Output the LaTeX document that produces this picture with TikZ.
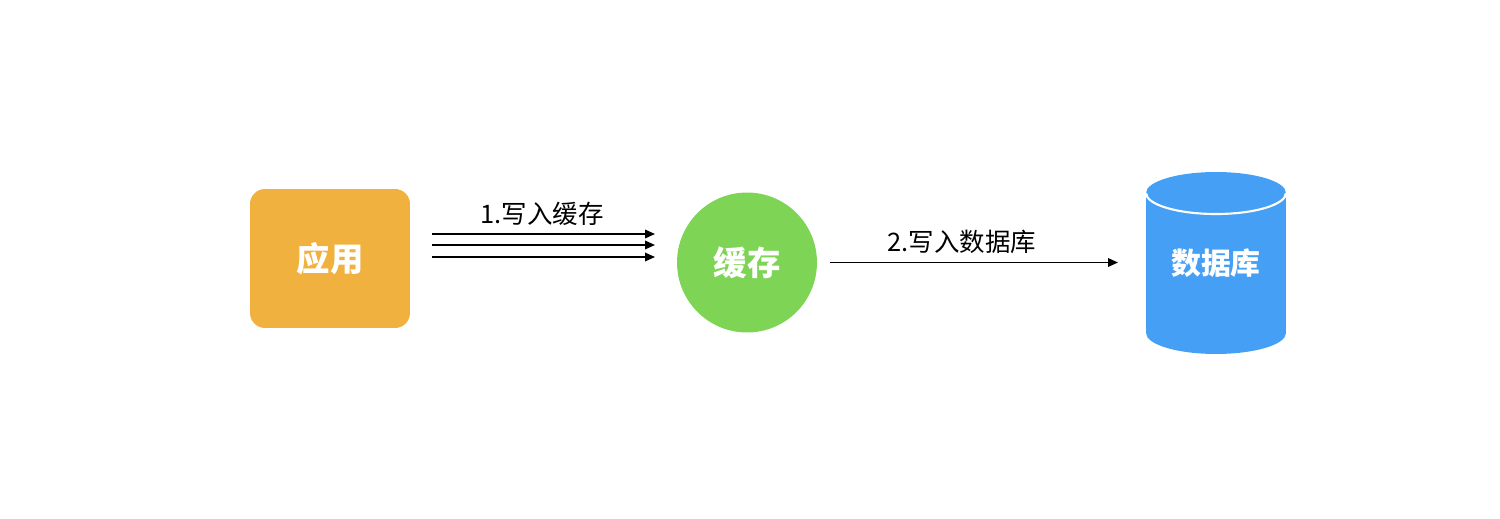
\documentclass[tikz,border=0pt]{standalone}
\usepackage{fontspec}
\setmainfont{Noto Sans CJK SC}
\usetikzlibrary{arrows.meta,backgrounds}
\definecolor{appyellow}{RGB}{240,177,62}
\definecolor{cachegreen}{RGB}{126,212,84}
\definecolor{dbblue}{RGB}{69,159,245}

\begin{document}
\begin{tikzpicture}[x=0.02cm,y=0.02cm]
  \useasboundingbox (0,0) rectangle (1500,518);
  \tikzstyle{block}=[text=white,font=\fontsize{19}{19}\selectfont\bfseries,inner sep=0pt,outer sep=0pt]
  \tikzstyle{note}=[font=\fontsize{14.5}{14.5}\selectfont,inner sep=0pt]
  \tikzstyle{flow}=[-{Triangle[length=0.2cm,width=0.17cm]},line width=1pt]
  \node[block,fill=appyellow,rounded corners=0.3cm,minimum width=3.2cm,minimum height=2.78cm] (app) at (330,259.5) {应用};
  \node[block,fill=cachegreen,circle,minimum size=2.8cm] (cache) at (747,255.5) {缓存};
  \node[block,font=\fontsize{17}{17}\selectfont\bfseries,minimum width=2.8cm,minimum height=2.8cm] (db) at (1216,255) {数据库};
  % cylinder behind the text
  \begin{scope}[on background layer]
    \fill[dbblue] (db.north west) rectangle (db.south east);
    \fill[dbblue] (db.south) ellipse [x radius=1.4cm, y radius=0.42cm];
    \fill[dbblue] (db.north) ellipse [x radius=1.4cm, y radius=0.42cm];
    \draw[white,line width=1.2pt] (db.north west) arc [start angle=180, end angle=360, x radius=1.4cm, y radius=0.42cm];
  \end{scope}
  \foreach \d in {0.49,0.27,0.03}
    \draw[flow,shorten <=0.44cm,shorten >=0.44cm] ([yshift=\d cm]app.east) -- ([yshift=\d cm]app.east -| cache.west);
  \draw[flow,shorten <=0.26cm,shorten >=0.56cm] (cache.east) -- (cache.east -| db.west);
  \node[note] (w1) at (542,304) {1.写入缓存};
  \node[note] (w2) at (962,276) {2.写入数据库};
\end{tikzpicture}
\end{document}
